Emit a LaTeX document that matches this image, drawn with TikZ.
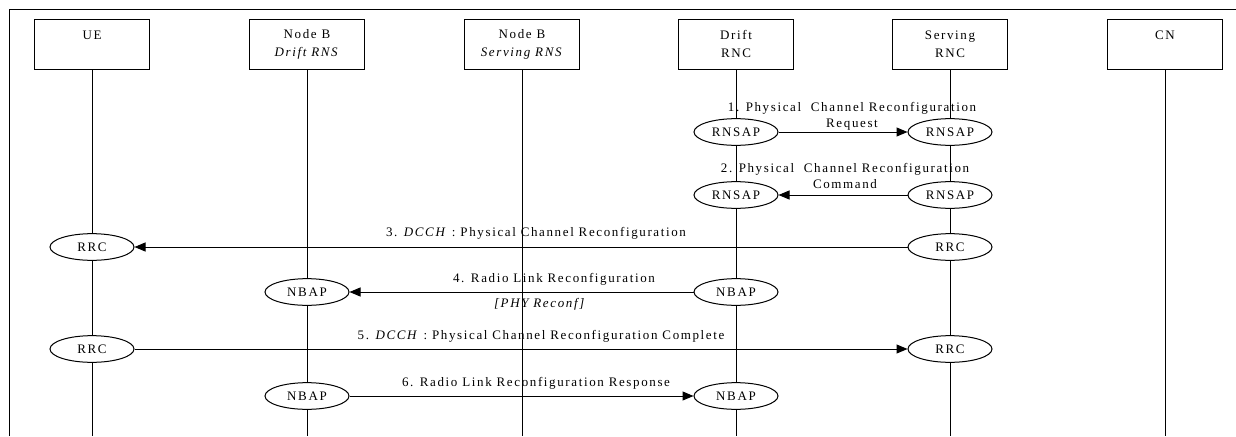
\documentclass[tikz,border=0pt]{standalone}
\usepackage{fontspec}
\setmainfont{Liberation Serif}[LetterSpace=12.5]
\usetikzlibrary{shapes.geometric}
\usetikzlibrary{arrows.meta}
\usetikzlibrary{positioning}

\begin{document}
\begin{tikzpicture}[x=0.75pt,y=-0.75pt,line width=0.75pt,
    font=\fontsize{9.75}{12}\selectfont,
    entity/.style={draw,minimum width=86.25pt,minimum height=37.5pt,inner sep=0pt,
      align=center,font=\fontsize{9.75}{13.5}\selectfont},
    proto/.style={draw,ellipse,fill=white,minimum width=63pt,minimum height=20pt,inner sep=0pt},
    msg/.style={-{Triangle[length=8.25pt,width=6.75pt]}},
    lbl/.style={inner sep=0pt,align=center}]
    \useasboundingbox (0,0) rectangle (1236,436);
    \draw (9,436) -- (9,9) -- (1236,9);

    % entities
    \node[entity] (ue) at (92,44) {UE\\\mbox{}};
    \node[entity] (nbd) at (307,44) {Node B\\\textit{Drift RNS}};
    \node[entity] (nbs) at (522,44) {Node B\\\textit{Serving RNS}};
    \node[entity] (drnc) at (736,44) {Drift\\RNC};
    \node[entity] (srnc) at (950,44) {Serving\\RNC};
    \node[entity] (cn) at (1165,44) {CN\\\mbox{}};
    \foreach \e in {ue,nbd,nbs,drnc,srnc,cn}{
      \coordinate (\e-end) at (\e.south |- 0,436);
      \draw (\e.south) -- (\e-end);
    }

    % protocol ends
    \node[proto] (rnsapD1) at (736,132) {RNSAP};
    \node[proto] (rnsapS1) at (950,132) {RNSAP};
    \node[proto] (rnsapD2) at (736,195) {RNSAP};
    \node[proto] (rnsapS2) at (950,195) {RNSAP};
    \node[proto] (rrcU3) at (92,247) {RRC};
    \node[proto] (rrcS3) at (950,247) {RRC};
    \node[proto] (nbapB4) at (307,292) {NBAP};
    \node[proto] (nbapD4) at (736,292) {NBAP};
    \node[proto] (rrcU5) at (92,349) {RRC};
    \node[proto] (rrcS5) at (950,349) {RRC};
    \node[proto] (nbapB6) at (307,396) {NBAP};
    \node[proto] (nbapD6) at (736,396) {NBAP};

    % messages
    \draw[msg] (rnsapD1) -- (rnsapS1);
    \draw[msg] (rnsapS2) -- (rnsapD2);
    \draw[msg] (rrcS3) -- (rrcU3);
    \draw[msg] (nbapD4) -- (nbapB4);
    \draw[msg] (rrcU5) -- (rrcS5);
    \draw[msg] (nbapB6) -- (nbapD6);

    \node[lbl] (m1) at (852,116) {1. Physical~ Channel Reconfiguration\\Request};
    \node[lbl] (m2) at (845,176) {2. Physical~ Channel Reconfiguration\\Command};
    \node[lbl] (m3) at (536,233) {3. \textit{DCCH} : Physical Channel Reconfiguration};
    \node[lbl] (m4) at (554,279) {4. Radio Link Reconfiguration};
    \node[lbl] (m4b) at (540,304) {\textit{[PHY Reconf]}};
    \node[lbl] (m5) at (541,336) {5. \textit{DCCH} : Physical Channel Reconfiguration Complete};
    \node[lbl] (m6) at (536,383) {6. Radio Link Reconfiguration Response};
\end{tikzpicture}
\end{document}
